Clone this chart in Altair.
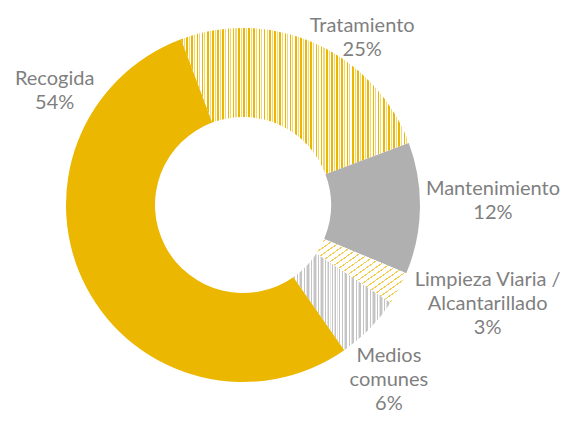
import math
import altair as alt
import pandas as pd

# ---- data ----
categories = ["Tratamiento", "Mantenimiento", "Limpieza Viaria / Alcantarillado",
              "Medios comunes", "Recogida"]
values = [25, 12, 3, 6, 54]
label_names = ["Tratamiento", "Mantenimiento", "Limpieza Viaria /\nAlcantarillado",
               "Medios\ncomunes", "Recogida"]

df = pd.DataFrame({
    "cat": categories,
    "value": values,
    "order": list(range(len(categories))),
    "label": [f"{n}\n{v}%" for n, v in zip(label_names, values)],
})

# ---- layout / style ----
CX, CY = 235, 197
R_OUT, R_IN = 177, 88
START = math.radians(360 - 20.5)
GOLD = "#EBB700"
TEXT = "#7f7f7f"
FS = 20
LH = 24


def stripes(pattern, n, x2=1.0, y2=0.0):
    stops = []
    for i in range(n):
        pos = i / n
        for color, frac in pattern:
            end = pos + frac / n
            stops.append(alt.GradientStop(color=color, offset=round(min(pos, 1), 5)))
            stops.append(alt.GradientStop(color=color, offset=round(min(end, 1), 5)))
            pos = end
    return alt.LinearGradient(gradient="linear", stops=stops, x1=0, y1=0, x2=x2, y2=y2)


fills = {
    "Tratamiento": stripes([(GOLD, 0.32), ("#ffffff", 0.2), ("#F3D773", 0.2), ("#ffffff", 0.28)], 44),
    "Mantenimiento": "#B0B0B0",
    "Limpieza Viaria / Alcantarillado": stripes([("#F2CC4A", 0.2), ("#ffffff", 0.8)], 20, 1, 1),
    "Medios comunes": stripes([("#C4C4C4", 0.4), ("#ffffff", 0.25), ("#E3E3E3", 0.2), ("#ffffff", 0.15)], 28),
    "Recogida": GOLD,
}

# offsets of the label block centre from the point at radius 215, mid-angle
label_offsets = {
    "Tratamiento": (30, 28),
    "Mantenimiento": (35, -9),
    "Limpieza Viaria / Alcantarillado": (55, -3),
    "Medios comunes": (-8, 24),
    "Recogida": (2, -215),
}

theta_scale = alt.Scale(domain=[0, 100], range=[START, START + 2 * math.pi])

base = alt.Chart(df).transform_window(
    cum="sum(value)", sort=[alt.SortField("order")], frame=[None, 0]
).transform_calculate(
    start="datum.cum - datum.value",
    mid="datum.cum - datum.value / 2",
)

layers = []
for c in categories:
    layers.append(
        base.transform_filter(alt.datum.cat == c)
        .mark_arc(radius=R_OUT, radius2=R_IN, fill=fills[c])
        .encode(
            theta=alt.Theta("start:Q", scale=theta_scale, stack=None),
            theta2="cum:Q",
            x=alt.value(CX),
            y=alt.value(CY),
        )
    )

for c, lab in zip(categories, df["label"]):
    dx, dy = label_offsets[c]
    nlines = lab.count("\n") + 1
    dy = dy - (nlines - 1) * LH / 2 + 1
    layers.append(
        base.transform_filter(alt.datum.cat == c)
        .mark_text(radius=215, dx=dx, dy=dy, font="Lato", fontSize=FS, color=TEXT,
                   lineBreak="\n", lineHeight=LH, align="center", baseline="middle")
        .encode(
            theta=alt.Theta("mid:Q", scale=theta_scale, stack=None),
            text="label:N",
            x=alt.value(CX),
            y=alt.value(CY),
        )
    )

chart = alt.layer(*layers).properties(
    width=552, height=407, padding=0,
    autosize=alt.AutoSizeParams(type="none"),
    background="white",
).configure_view(stroke=None)

chart.save("out.html", embed_options={"renderer": "svg", "actions": False})
